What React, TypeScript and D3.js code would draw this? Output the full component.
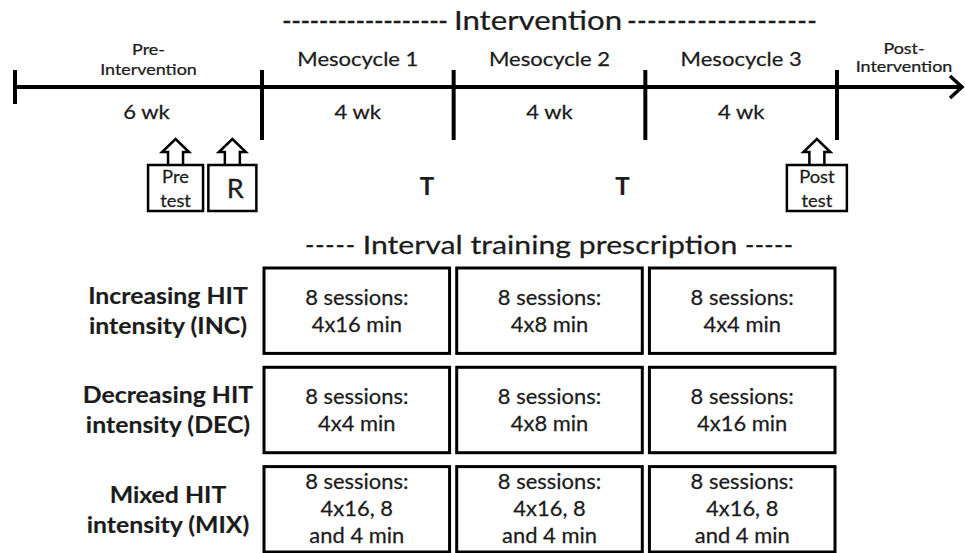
import React from 'react';
import * as d3 from 'd3';

// timeline periods (label lines, duration)
const periodNames = ['Pre-|Intervention', 'Mesocycle 1', 'Mesocycle 2', 'Mesocycle 3'];
const periodWeeks = ['6 wk', '4 wk', '4 wk', '4 wk'];
const postLabel = 'Post-|Intervention';

// events on the timeline: period index + fraction within that period
const eventLabels = ['Pre|test', 'R', 'T', 'T', 'Post|test'];
const eventPeriods = [0, 0, 1, 2, 3];
const eventFractions = [0.65, 0.88, 0.86, 0.88, 0.895];
const eventKinds = ['box', 'box', 'mark', 'mark', 'box'];

// interval training prescription grid
const groups = ['Increasing HIT|intensity (INC)', 'Decreasing HIT|intensity (DEC)', 'Mixed HIT|intensity (MIX)'];
const mesocycles = ['Mesocycle 1', 'Mesocycle 2', 'Mesocycle 3'];
const incSessions = ['8 sessions:|4x16 min', '8 sessions:|4x8 min', '8 sessions:|4x4 min'];
const decSessions = ['8 sessions:|4x4 min', '8 sessions:|4x8 min', '8 sessions:|4x16 min'];
const mixSessions = ['8 sessions:|4x16, 8|and 4 min', '8 sessions:|4x16, 8|and 4 min', '8 sessions:|4x16, 8|and 4 min'];

const W = 965;
const H = 553;
const FONT = 'Lato, "Open Sans", sans-serif';
const INK = '#1c1c1c';

// text with a horizontal stretch (source font is wider than Lato)
const Txt: React.FC<{
  x: number; y: number; size: number; sx?: number; bold?: boolean;
  anchor?: 'start' | 'middle' | 'end'; children: React.ReactNode;
}> = ({ x, y, size, sx = 1, bold = false, anchor = 'middle', children }) => (
  <text
    transform={`translate(${x},${y}) scale(${sx},1)`}
    fontSize={size}
    fontWeight={bold ? 'bold' : 'normal'}
    textAnchor={anchor}
    fill={INK}
    stroke={INK}
    strokeWidth={bold ? 0.15 : 0.25}
  >
    {children}
  </text>
);

const Dashes: React.FC<{ x: number; y: number; size: number; len: number; n: number }> = ({ x, y, size, len, n }) => (
  <text x={x} y={y} fontSize={size} fill={INK} stroke={INK} strokeWidth={0.3} textLength={len} lengthAdjust="spacing">
    {'-'.repeat(n)}
  </text>
);

const App: React.FC = () => {
  // piecewise: period boundary index -> x
  const x = d3.scaleLinear().domain([0, 1, 4]).range([15, 262, 837]);
  const lineY = 87;

  const col = d3.scaleBand<string>().domain(mesocycles).range([264, 835]).paddingInner(0.037);
  const row = d3.scaleBand<string>().domain(groups).range([268, 552]).paddingInner(0.14);
  const cells = [incSessions, decSessions, mixSessions];

  const boxWidth = (label: string) => (label === 'R' ? 48 : label.startsWith('Post') ? 60 : 55);

  const arrowPath = (cx: number) => {
    const p = d3.path();
    p.moveTo(cx - 7.5, 165);
    p.lineTo(cx - 7.5, 152);
    p.lineTo(cx - 13.5, 152);
    p.lineTo(cx, 139);
    p.lineTo(cx + 13.5, 152);
    p.lineTo(cx + 7.5, 152);
    p.lineTo(cx + 7.5, 165);
    return p.toString();
  };

  return (
    <svg width={W} height={H} style={{ position: 'absolute', left: 0, top: 0, background: '#fff' }} fontFamily={FONT}>
      {/* Intervention header */}
      <Dashes x={282} y={30} size={26} len={166} n={18} />
      <Txt x={538} y={30} size={26} sx={1.2}>Intervention</Txt>
      <Dashes x={627} y={30} size={26} len={190} n={19} />

      {/* timeline axis */}
      <line x1={x(0)} x2={961} y1={lineY} y2={lineY} stroke="#000" strokeWidth={4} />
      <polyline points="950,76 962,87 950,98" fill="none" stroke="#000" strokeWidth={3.5} />
      {d3.range(5).map(i => (
        <line key={i} x1={x(i)} x2={x(i)} y1={70} y2={i === 0 ? 104 : 140} stroke="#000" strokeWidth={4} />
      ))}

      {periodNames.map((name, i) => {
        const cx = (x(i) + x(i + 1)) / 2;
        const lines = name.split('|');
        return (
          <g key={name}>
            {lines.length > 1 ? (
              lines.map((l, j) => (
                <Txt key={j} x={cx + 10} y={55 + j * 20} size={16} sx={1.12}>{l}</Txt>
              ))
            ) : (
              <Txt x={cx} y={66} size={19.5} sx={1.13}>{name}</Txt>
            )}
            <Txt x={i === 0 ? cx + 8 : cx} y={119} size={19.5} sx={1.13}>{periodWeeks[i]}</Txt>
          </g>
        );
      })}
      {postLabel.split('|').map((l, j) => (
        <Txt key={j} x={904} y={54 + j * 18} size={16} sx={1.12}>{l}</Txt>
      ))}

      {/* events */}
      {eventLabels.map((label, i) => {
        const p = eventPeriods[i];
        const cx = x(p) + (x(p + 1) - x(p)) * eventFractions[i];
        if (eventKinds[i] === 'mark') {
          return <Txt key={i} x={cx} y={195} size={24} bold>{label}</Txt>;
        }
        const bw = boxWidth(label);
        const lines = label.split('|');
        return (
          <g key={i}>
            <path d={arrowPath(cx)} fill="#fff" stroke="#000" strokeWidth={2.5} strokeLinejoin="miter" />
            <rect x={cx - bw / 2} y={165} width={bw} height={46} fill="#fff" stroke="#000" strokeWidth={2.5} />
            {lines.length === 1 ? (
              <Txt x={cx + 3} y={198} size={26} sx={1.05}>{label}</Txt>
            ) : (
              lines.map((l, j) => (
                <Txt key={j} x={cx} y={183 + j * 24} size={17} sx={1.08}>{l}</Txt>
              ))
            )}
          </g>
        );
      })}

      {/* prescription header */}
      <Dashes x={305} y={254} size={25} len={50} n={5} />
      <Txt x={550} y={254} size={25} sx={1.21}>Interval training prescription</Txt>
      <Dashes x={745} y={254} size={25} len={48} n={5} />

      {/* grid */}
      {groups.map((g, r) => {
        const top = row(g)!;
        return (
          <g key={g}>
            {g.split('|').map((l, j) => (
              <Txt key={j} x={168} y={top + 36 + j * 30} size={23} sx={1.08} bold>{l}</Txt>
            ))}
            {mesocycles.map((m, c) => {
              const left = col(m)!;
              const cx = left + col.bandwidth() / 2;
              const lines = cells[r][c].split('|');
              const y0 = lines.length === 3 ? top + 22 : top + 37;
              return (
                <g key={m}>
                  <rect x={left} y={top} width={col.bandwidth()} height={row.bandwidth()} fill="#fff" stroke="#000" strokeWidth={3} />
                  {lines.map((l, j) => (
                    <Txt key={j} x={cx} y={y0 + j * 27} size={20.5} sx={1.07}>{l}</Txt>
                  ))}
                </g>
              );
            })}
          </g>
        );
      })}
    </svg>
  );
};

export default App;
